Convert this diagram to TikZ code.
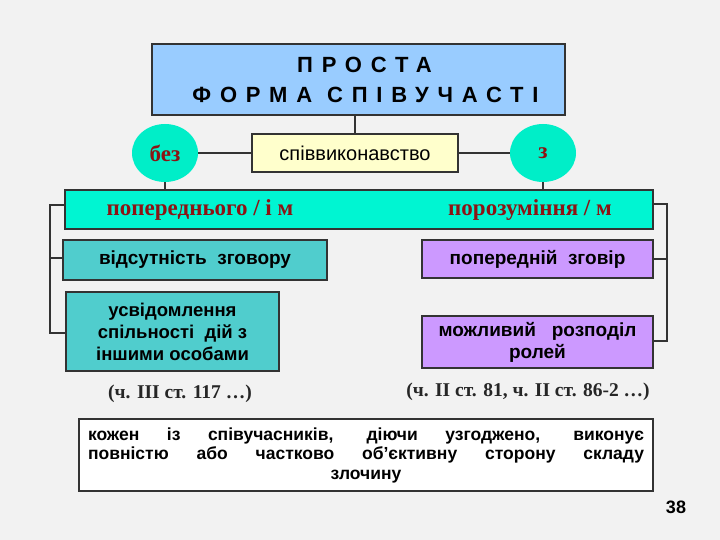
\documentclass[tikz,border=0pt]{standalone}
\usepackage{fontspec}
\setmainfont{Liberation Serif}
\setsansfont{Liberation Sans}
\usetikzlibrary{shapes.geometric}
\definecolor{titleblue}{RGB}{153,204,255}
\definecolor{mint}{RGB}{0,238,200}
\definecolor{barc}{RGB}{0,245,210}
\definecolor{teal2}{RGB}{80,205,205}
\definecolor{violet2}{RGB}{204,153,255}
\definecolor{yel}{RGB}{255,255,204}
\definecolor{dred}{RGB}{140,20,20}
\definecolor{bg}{RGB}{242,242,242}
\tikzset{
 box/.style={draw=black!80,line width=1.2pt,inner sep=0pt,font=\sffamily\bfseries},
 circ/.style={ellipse,fill=mint,minimum width=66pt,minimum height=58pt,font=\rmfamily\bfseries\fontsize{23}{23}\selectfont,text=dred},
 conn/.style={line width=1.2pt,draw=black!80},
 redtxt/.style={font=\rmfamily\bfseries\fontsize{23}{23}\selectfont,text=dred},
 ref/.style={font=\rmfamily\bfseries\fontsize{19.5}{19.5}\selectfont,text=black!85}
}
\begin{document}
\begin{tikzpicture}[x=1pt,y=-1pt]
\fill[bg] (0,0) rectangle (720,540);
\useasboundingbox (0,0) rectangle (720,540);
\node[box,fill=titleblue,minimum width=413pt,minimum height=71pt,align=center,font=\sffamily\bfseries\fontsize{22}{30}\selectfont\addfontfeatures{LetterSpace=40}] (title) at (358.5,79.5) {\hspace*{12pt}ПРОСТА\\\hspace*{14pt}ФОРМА СПІВУЧАСТІ};
\node[box,fill=yel,minimum width=206pt,minimum height=38pt,font=\sffamily\fontsize{20}{20}\selectfont] (spiv) at (355,153) {співвиконавство};
\node[circ] (bez) at (165,153) {без};
\node[circ] (z) at (543,153) {з};
\node[box,fill=barc,minimum width=588pt,minimum height=39pt] (bar) at (359,209.5) {};
\node[redtxt] (t1) at (200,210) {попереднього / і м};
\node[redtxt] (t2) at (530,210) {порозуміння / м};
\node[box,fill=teal2,minimum width=264pt,minimum height=40pt,font=\sffamily\bfseries\fontsize{19}{19}\selectfont] (vid) at (195,260) {відсутність\ \ зговору};
\node[box,fill=teal2,minimum width=213pt,minimum height=79pt,align=center,font=\sffamily\bfseries\fontsize{18.5}{22}\selectfont] (usv) at (172.5,331.5) {усвідомлення\\спільності\ \ дій з\\іншими особами};
\node[box,fill=violet2,minimum width=231pt,minimum height=38pt,font=\sffamily\bfseries\fontsize{19}{19}\selectfont] (pop) at (537.5,259) {попередній\ \ зговір};
\node[box,fill=violet2,minimum width=231pt,minimum height=52pt,align=center,font=\sffamily\bfseries\fontsize{19}{22}\selectfont] (mozh) at (537.5,342) {можливий\ \ \ розподіл\\ролей};
\node[ref] (r1) at (180,394) {(ч. ІІІ ст. 117 …)};
\node[ref] (r2) at (528,392) {(ч. ІІ ст. 81, ч. ІІ ст. 86-2 …)};
\node[box,fill=white,minimum width=574pt,minimum height=72pt,align=center,font=\sffamily\bfseries\fontsize{17.5}{19.5}\selectfont] (bot) at (366,455) {\makebox[556pt][s]{кожен із співучасників, діючи узгоджено, виконує}\\\makebox[556pt][s]{повністю або частково об’єктивну сторону складу}\\злочину};
\node[font=\sffamily\bfseries\fontsize{18}{18}\selectfont] (num) at (676,507) {38};
% connectors
\draw[conn] (title.south-|spiv.north) -- (spiv.north);
\draw[conn] (bez.east) -- (spiv.west);
\draw[conn] (spiv.east) -- (z.west);
\draw[conn] (bez.south) -- (bez.south|-bar.north);
\draw[conn] (z.south) -- (z.south|-bar.north);
\coordinate (L) at (50,205);
\draw[conn] (bar.west|-L) -- (L) -- (50,333) -- (usv.west|-0,333);
\draw[conn] (50,258) -- (vid.west|-0,258);
\coordinate (R) at (667,204);
\draw[conn] (bar.east|-R) -- (R) -- (667,341) -- (mozh.east|-0,341);
\draw[conn] (667,259) -- (pop.east|-0,259);
\end{tikzpicture}
\end{document}
